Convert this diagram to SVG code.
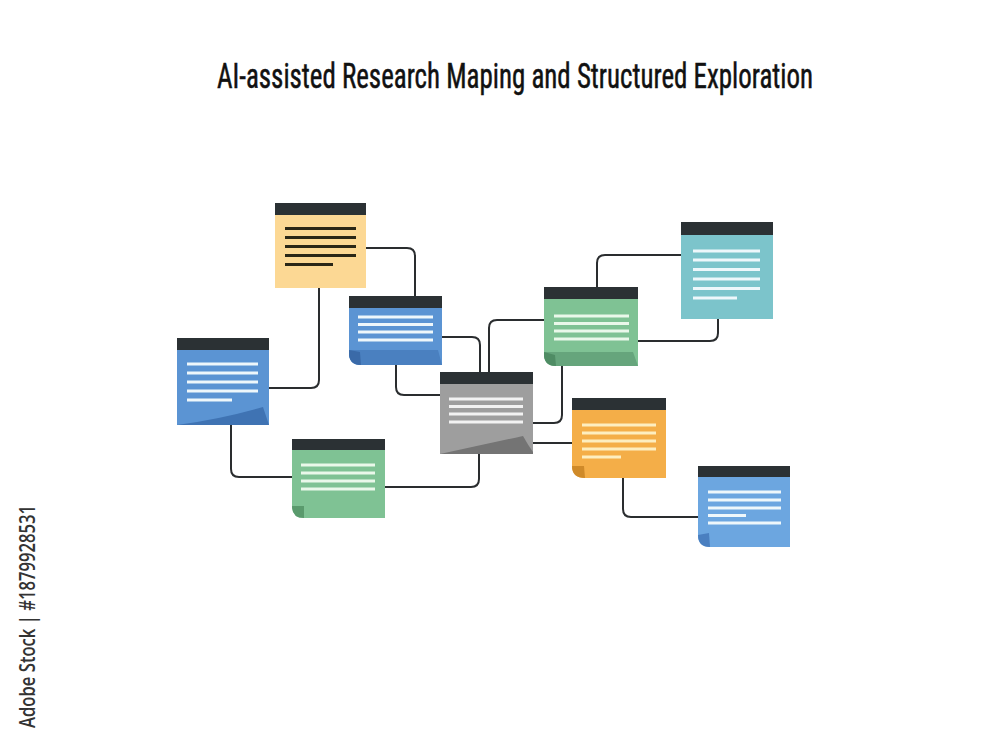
<svg xmlns="http://www.w3.org/2000/svg" width="1000" height="750" viewBox="0 0 1000 750">
<style>
.hdr{fill:#2b3134}
.ln{stroke-width:3;stroke-linecap:butt}
.wl{stroke:#eef7fb}
.dl{stroke:#2a2616}
.ol{stroke:#fdeec0}
.gl{stroke:#eaf8ea}
.con{fill:none;stroke:#2a2d2f;stroke-width:2}
.title{font-family:"Liberation Sans Narrow","Roboto Condensed","Liberation Sans",Arial,sans-serif;font-size:35px;font-weight:400;fill:#111111;stroke:#111111;stroke-width:0.5}
.side{font-family:"Open Sans","Noto Sans",sans-serif;font-size:21px;font-weight:600;fill:#333333}
</style>
<rect width="1000" height="750" fill="#ffffff"/>
<text class="title" x="217" y="88" textLength="596" lengthAdjust="spacingAndGlyphs">AI-assisted Research Maping and Structured Exploration</text>
<text class="side" transform="translate(35,728) rotate(-90)" textLength="223" lengthAdjust="spacingAndGlyphs">Adobe Stock | #1879928531</text>

<g id="connectors">
<path class="con" d="M366,248 H407 Q415,248 415,256 V296"/>
<path class="con" d="M319,288 V380 Q319,388 311,388 H269"/>
<path class="con" d="M231,425 V469 Q231,477 239,477 H292"/>
<path class="con" d="M385,487 H471 Q479,487 479,479 V454"/>
<path class="con" d="M442,337 H472 Q480,337 480,345 V372"/>
<path class="con" d="M396,365 V387 Q396,395 404,395 H440"/>
<path class="con" d="M489,372 V328 Q489,320 497,320 H544"/>
<path class="con" d="M562,366 V415 Q562,423 554,423 H533"/>
<path class="con" d="M533,443 H572"/>
<path class="con" d="M638,341 H710 Q718,341 718,333 V319"/>
<path class="con" d="M597,287 V263 Q597,255 605,255 H681"/>
<path class="con" d="M623,478 V509 Q623,517 631,517 H698"/>
</g>

<g id="node-yellow">
<rect x="275" y="214" width="91" height="74" fill="#fcd894"/>
<rect class="hdr" x="275" y="203" width="91" height="12"/>
<g class="ln dl">
<line x1="285" y1="228.5" x2="356" y2="228.5"/>
<line x1="285" y1="237.5" x2="356" y2="237.5"/>
<line x1="285" y1="246.5" x2="356" y2="246.5"/>
<line x1="285" y1="255.5" x2="356" y2="255.5"/>
<line x1="285" y1="264.5" x2="333" y2="264.5"/>
</g>
</g>

<g id="node-blue-left">
<rect x="177" y="349" width="92" height="76" fill="#5b94d3"/>
<path d="M177,425 Q222,419 263,407 Q266,416 269,425 Z" fill="#3f73b3"/>
<rect class="hdr" x="177" y="338" width="92" height="12"/>
<g class="ln wl">
<line x1="187" y1="364" x2="258" y2="364"/>
<line x1="187" y1="373" x2="258" y2="373"/>
<line x1="187" y1="382" x2="258" y2="382"/>
<line x1="187" y1="391" x2="258" y2="391"/>
<line x1="187" y1="400" x2="232" y2="400"/>
</g>
</g>

<g id="node-blue-mid">
<path d="M349,307 H442 V365 H361 Q349,365 349,353 Z" fill="#5b94d3"/>
<path d="M349,350 H438 L442,365 H361 Q349,365 349,353 Z" fill="#4a80c0"/>
<path d="M349,350 L360,352 L361,365 Q349,365 349,353 Z" fill="#3a6aa8"/>
<rect class="hdr" x="349" y="296" width="93" height="12"/>
<g class="ln wl">
<line x1="358" y1="317" x2="433" y2="317"/>
<line x1="358" y1="324.5" x2="433" y2="324.5"/>
<line x1="358" y1="332" x2="433" y2="332"/>
<line x1="358" y1="340" x2="433" y2="340"/>
</g>
</g>

<g id="node-gray">
<rect x="440" y="383" width="93" height="71" fill="#9e9e9e"/>
<path d="M440,454 Q482,445 523,436 Q528,445 533,452 V454 Z" fill="#747474"/>
<rect class="hdr" x="440" y="372" width="93" height="12"/>
<g class="ln" stroke="#f2f2f2">
<line x1="449" y1="399" x2="523" y2="399"/>
<line x1="449" y1="406.5" x2="523" y2="406.5"/>
<line x1="449" y1="414" x2="523" y2="414"/>
<line x1="449" y1="422" x2="523" y2="422"/>
</g>
</g>

<g id="node-green-top">
<path d="M544,298 H638 V366 H556 Q544,366 544,354 Z" fill="#7fc294"/>
<path d="M544,352 H633 L638,366 H556 Q544,366 544,354 Z" fill="#66a57c"/>
<path d="M544,352 L555,355 L556,366 Q544,366 544,354 Z" fill="#4f8c64"/>
<rect class="hdr" x="544" y="287" width="94" height="12"/>
<g class="ln gl">
<line x1="554" y1="316" x2="629" y2="316"/>
<line x1="554" y1="323.5" x2="629" y2="323.5"/>
<line x1="554" y1="331" x2="629" y2="331"/>
<line x1="554" y1="339" x2="629" y2="339"/>
</g>
</g>

<g id="node-teal">
<rect x="681" y="234" width="92" height="85" fill="#7cc4cb"/>
<rect class="hdr" x="681" y="222" width="92" height="13"/>
<g class="ln wl">
<line x1="693" y1="251" x2="760" y2="251"/>
<line x1="693" y1="260" x2="760" y2="260"/>
<line x1="693" y1="269.5" x2="760" y2="269.5"/>
<line x1="693" y1="279" x2="760" y2="279"/>
<line x1="693" y1="288.5" x2="760" y2="288.5"/>
<line x1="693" y1="298" x2="737" y2="298"/>
</g>
</g>

<g id="node-orange">
<path d="M572,409 H666 V478 H585 Q572,478 572,466 Z" fill="#f4ae48"/>
<path d="M572,466 L584,466 L585,478 Q572,478 572,466 Z" fill="#cf8a29"/>
<rect class="hdr" x="572" y="398" width="94" height="12"/>
<g class="ln ol">
<line x1="582" y1="425" x2="656" y2="425"/>
<line x1="582" y1="433" x2="656" y2="433"/>
<line x1="582" y1="441" x2="656" y2="441"/>
<line x1="582" y1="449" x2="656" y2="449"/>
<line x1="582" y1="457" x2="621" y2="457"/>
</g>
</g>

<g id="node-green-bottom">
<path d="M292,449 H385 V518 H304 Q292,518 292,506 Z" fill="#7fc294"/>
<path d="M292,506 L304,506 L304,518 Q292,518 292,506 Z" fill="#5a9a6d"/>
<rect class="hdr" x="292" y="439" width="93" height="11"/>
<g class="ln gl">
<line x1="301" y1="465" x2="375" y2="465"/>
<line x1="301" y1="473" x2="375" y2="473"/>
<line x1="301" y1="481" x2="375" y2="481"/>
<line x1="301" y1="489" x2="375" y2="489"/>
</g>
</g>

<g id="node-blue-right">
<path d="M698,476 H790 V547 H710 Q698,547 698,535 Z" fill="#6ca6e0"/>
<path d="M698,535 L709,533 L710,547 Q698,547 698,535 Z" fill="#4a7fc0"/>
<rect class="hdr" x="698" y="466" width="92" height="11"/>
<g class="ln wl">
<line x1="708" y1="492" x2="781" y2="492"/>
<line x1="708" y1="500" x2="781" y2="500"/>
<line x1="708" y1="508" x2="781" y2="508"/>
<line x1="708" y1="515.5" x2="746" y2="515.5"/>
<line x1="708" y1="523" x2="781" y2="523"/>
</g>
</g>
</svg>
